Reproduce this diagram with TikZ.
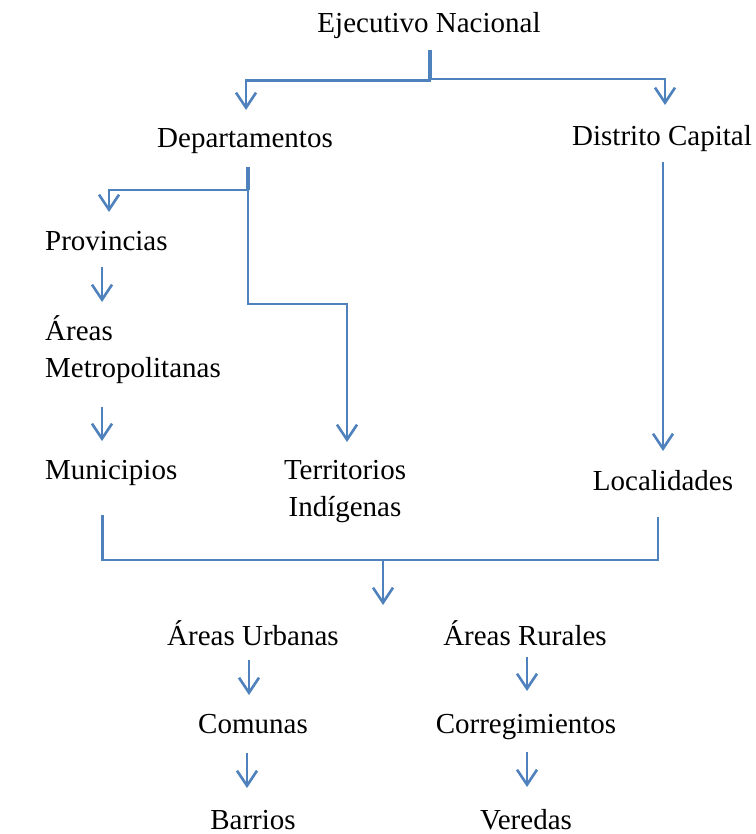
\documentclass[tikz,border=0pt]{standalone}
\usepackage{fontspec}
\setmainfont{Liberation Serif}
\usetikzlibrary{arrows.meta}
\definecolor{linkblue}{HTML}{4F81BD}
\begin{document}
\begin{tikzpicture}[x=1pt,y=-1pt,
  lbl/.style={inner sep=0pt, font=\fontsize{29}{37}\selectfont, anchor=base},
  link/.style={draw=linkblue, line width=2.6pt},
  arr/.style={link, -{Straight Barb[length=15pt,width=20pt,line width=2.6pt]}}]
\useasboundingbox (0,0) rectangle (755,834);

% administrative units
\node[lbl] (ejec) at (429,33) {Ejecutivo Nacional};
\node[lbl] (dep) at (245,148) {Departamentos};
\node[lbl] (dc) at (662,146) {Distrito Capital};
\node[lbl,anchor=base west] (prov) at (45,250) {Provincias};
\node[lbl,anchor=base west] (amet) at (45,340) {\begin{tabular}[t]{@{}l@{}}Áreas\\Metropolitanas\end{tabular}};
\node[lbl,anchor=base west] (mun) at (45,479) {Municipios};
\node[lbl] (ti) at (345,479) {\begin{tabular}[t]{@{}c@{}}Territorios\\Indígenas\end{tabular}};
\node[lbl] (loc) at (663,490) {Localidades};
\node[lbl] (au) at (253,645) {Áreas Urbanas};
\node[lbl] (ar) at (525,645) {Áreas Rurales};
\node[lbl] (com) at (253,733) {Comunas};
\node[lbl] (cor) at (526,733) {Corregimientos};
\node[lbl] (bar) at (253,829) {Barrios};
\node[lbl] (ver) at (526,829) {Veredas};

% connector end points and bends
\coordinate (ejecOut) at (430,50);
\coordinate (ejecJ) at (430,80);
\coordinate (depIn) at (246,110);
\coordinate (dcIn) at (665,105);
\coordinate (depOut) at (248,167);
\coordinate (depJ) at (248,190);
\coordinate (provIn) at (109,212);
\coordinate (tiBend) at (248,304);
\coordinate (tiIn) at (347,442);
\coordinate (provOut) at (102,267);
\coordinate (ametIn) at (102,302);
\coordinate (ametOut) at (102,407);
\coordinate (munIn) at (102,441);
\coordinate (dcOut) at (663,162);
\coordinate (locIn) at (663,451);
\coordinate (munOut) at (102.5,515);
\coordinate (locOut) at (658,517);
\coordinate (areasJ) at (383,560);
\coordinate (areasIn) at (383,605);
\coordinate (auOut) at (249,660);
\coordinate (comIn) at (249,695);
\coordinate (arOut) at (527,657);
\coordinate (corIn) at (527,691);
\coordinate (comOut) at (247,753);
\coordinate (barIn) at (247,788);
\coordinate (corOut) at (527,752);
\coordinate (verIn) at (527,787);

% Ejecutivo Nacional
\draw[link, line width=3.2pt] (ejecOut) -- (ejecJ);
\draw[arr] (ejecJ) -- ++(0,0.5) -| (depIn);
\draw[arr] (ejecJ) -- ++(0,-1) -| (dcIn);

% Departamentos
\draw[link, line width=3.2pt] (depOut) -- (depJ);
\draw[arr] (depJ) -| (provIn);
\draw[arr] (depJ) -- (tiBend) -| (tiIn);
\draw[arr] (provOut) -- (ametIn);
\draw[arr] (ametOut) -- (munIn);

% Distrito Capital
\draw[arr] (dcOut) -- (locIn);

% Municipios and Localidades
\draw[link] (munOut) |- (areasJ) -| (locOut);
\draw[arr] (areasJ) -- (areasIn);

% urban and rural areas
\draw[arr] (auOut) -- (comIn);
\draw[arr] (comOut) -- (barIn);
\draw[arr] (arOut) -- (corIn);
\draw[arr] (corOut) -- (verIn);
\end{tikzpicture}
\end{document}
